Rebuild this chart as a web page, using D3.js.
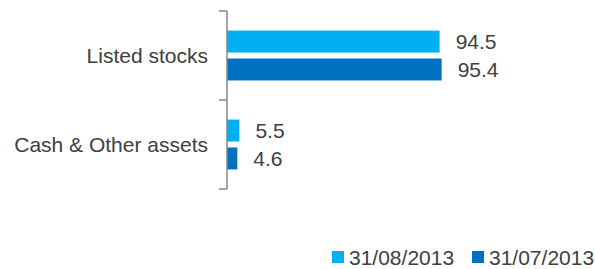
<!DOCTYPE html>
<html><head><meta charset="utf-8">
<script src="https://cdn.jsdelivr.net/npm/d3@7"></script>
<style>body{margin:0;background:#fff}svg{display:block}text{font-family:"Liberation Sans",Arial,sans-serif;fill:#404040}</style>
</head><body>
<script>
const categories = ["Listed stocks", "Cash & Other assets"];
const seriesNames = ["31/08/2013", "31/07/2013"];
const seriesAug = [94.5, 5.5];
const seriesJul = [95.4, 4.6];
const colors = ["#00B0F0", "#0070C0"];

const W = 595, H = 269;
const FS = 21;
const svg = d3.select("body").append("svg").attr("width", W).attr("height", H);

const axisX = 227;
const y = d3.scaleBand().domain(categories).range([11, 189]).padding(0);
const yInner = d3.scaleBand().domain(seriesNames).range([0, y.bandwidth()]).paddingInner(0.214).paddingOuter(0.7);
const x = d3.scaleLinear().domain([0, 100]).range([axisX, axisX + 225]);

const rows = categories.map((c, i) => ({cat: c, vals: [seriesAug[i], seriesJul[i]]}));

const g = svg.append("g");
rows.forEach(r => {
  r.vals.forEach((v, j) => {
    const yy = y(r.cat) + yInner(seriesNames[j]);
    g.append("rect").attr("x", x(0)).attr("y", yy)
      .attr("width", x(v) - x(0)).attr("height", yInner.bandwidth())
      .attr("fill", colors[j]);
    g.append("text").attr("x", x(v) + 16).attr("y", yy + yInner.bandwidth() / 2)
      .attr("dy", "0.35em").attr("font-size", FS).text(v.toFixed(1));
  });
});

// axis
const axisColor = "#868686";
g.append("line").attr("x1", axisX).attr("x2", axisX).attr("y1", y.range()[0]).attr("y2", y.range()[1])
  .attr("stroke", axisColor).attr("stroke-width", 1.5);
const tickPos = categories.map(c => y(c)).concat([y.range()[1]]);
tickPos.forEach(t => {
  g.append("line").attr("x1", axisX - 8).attr("x2", axisX).attr("y1", t).attr("y2", t)
    .attr("stroke", axisColor).attr("stroke-width", 1.5);
});
categories.forEach(c => {
  g.append("text").attr("x", 208).attr("y", y(c) + y.bandwidth() / 2)
    .attr("dy", "0.35em").attr("text-anchor", "end").attr("font-size", FS).text(c);
});

// legend
const legendX = [332, 472];
seriesNames.forEach((s, j) => {
  svg.append("rect").attr("x", legendX[j]).attr("y", 251).attr("width", 12).attr("height", 12).attr("fill", colors[j]);
  svg.append("text").attr("x", legendX[j] + 17).attr("y", 264.5).attr("font-size", FS).text(s);
});
</script>
</body></html>
